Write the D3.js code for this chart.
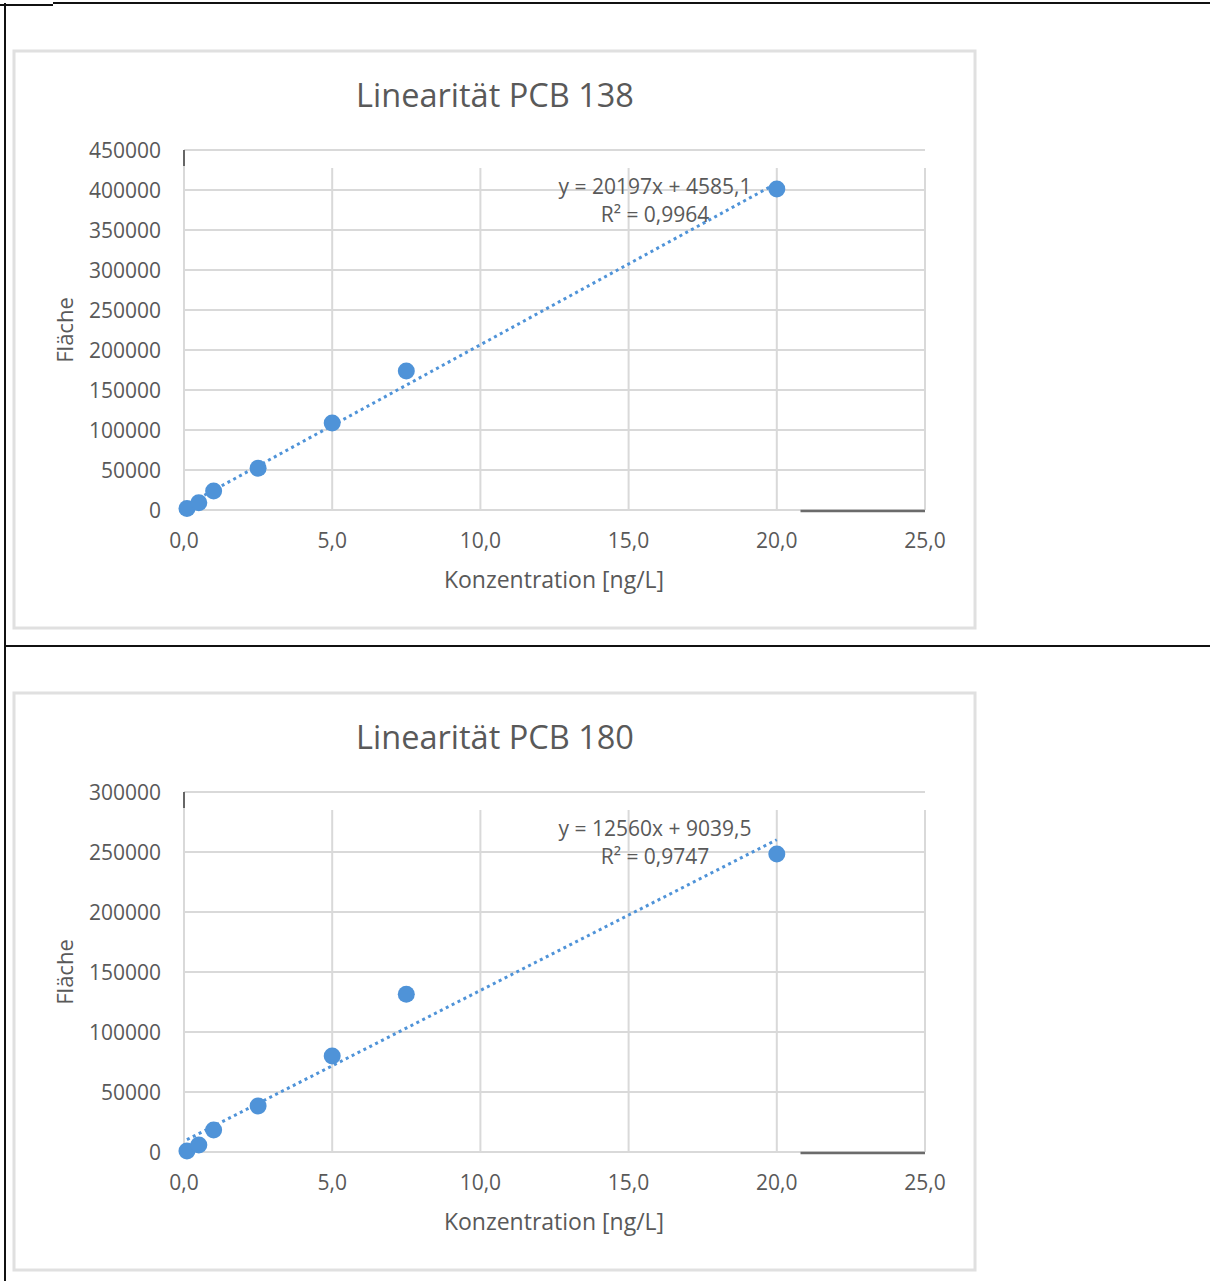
<!DOCTYPE html>
<html>
<head>
<meta charset="utf-8">
<script src="https://cdn.jsdelivr.net/npm/d3@7"></script>
<style>
  html, body { margin: 0; padding: 0; background: #fff; }
  svg { display: block; }
  text { font-family: "Open Sans", sans-serif; fill: #595959; }
</style>
</head>
<body>
<svg id="page" width="1210" height="1281"></svg>
<script>
// concentrations in ng/L
const concentrations = [0.1, 0.5, 1.0, 2.5, 5.0, 7.5, 20.0];

// peak areas
const areaPCB138 = [2000, 9100, 23750, 52100, 108750, 173750, 401250];
const areaPCB180 = [800, 5800, 18300, 38300, 80000, 131400, 248300];

// trendline coefficients as printed in the chart
const trendPCB138 = { slope: 20197, intercept: 4585.1, r2: '0,9964', label: 'y = 20197x + 4585,1' };
const trendPCB180 = { slope: 12560, intercept: 9039.5, r2: '0,9747', label: 'y = 12560x + 9039,5' };

const xTicks = [0, 5, 10, 15, 20, 25];
const yTicksPCB138 = [0, 50000, 100000, 150000, 200000, 250000, 300000, 350000, 400000, 450000];
const yTicksPCB180 = [0, 50000, 100000, 150000, 200000, 250000, 300000];

const titles = ['Linearität PCB 138', 'Linearität PCB 180'];

const svg = d3.select('#page');
const deLocale = d3.formatLocale({ decimal: ',', thousands: '', grouping: [3], currency: ['', ' €'] });
const fmtX = deLocale.format('.1f');

const pointColor = '#4f93d8';
const gridColor = '#d9d9d9';

// page borders (scanned document frame)
svg.append('path')
    .attr('d', 'M0,5H53M53,3H1210M5,3V1281M5,646H1210')
    .attr('fill', 'none')
    .attr('stroke', '#111')
    .attr('stroke-width', 2);

function drawChart(opts) {
    const {
        top, title, areas, trend, yTicks, yMax, plot, eqPos,
    } = opts;

    const g = svg.append('g').attr('class', 'chart');

    // chart frame
    g.append('rect')
        .attr('x', 14).attr('y', top)
        .attr('width', 961).attr('height', 577)
        .attr('fill', '#fff')
        .attr('stroke', '#e0e0e0')
        .attr('stroke-width', 3);

    const x = d3.scaleLinear().domain([0, 25]).range([plot.left, plot.right]);
    const y = d3.scaleLinear().domain([0, yMax]).range([plot.bottom, plot.top]);

    // horizontal grid
    g.append('g')
        .selectAll('line')
        .data(yTicks)
        .join('line')
        .attr('x1', plot.left).attr('x2', plot.right)
        .attr('y1', d => y(d)).attr('y2', d => y(d))
        .attr('stroke', gridColor)
        .attr('stroke-width', 2);

    // vertical grid (starts a bit below the top line, as in the picture)
    g.append('g')
        .selectAll('line')
        .data(xTicks)
        .join('line')
        .attr('x1', d => x(d)).attr('x2', d => x(d))
        .attr('y1', d => d === 0 ? plot.top : plot.top + 18)
        .attr('y2', plot.bottom)
        .attr('stroke', gridColor)
        .attr('stroke-width', 2);

    // dark bits of axis lines
    g.append('line')
        .attr('x1', plot.left).attr('x2', plot.left)
        .attr('y1', plot.top).attr('y2', plot.top + 16)
        .attr('stroke', '#666').attr('stroke-width', 2);
    g.append('line')
        .attr('x1', x(20.8)).attr('x2', x(25))
        .attr('y1', plot.bottom + 1).attr('y2', plot.bottom + 1)
        .attr('stroke', '#6b6b6b').attr('stroke-width', 2.5);

    // y tick labels
    g.append('g')
        .selectAll('text')
        .data(yTicks)
        .join('text')
        .attr('x', plot.left - 23)
        .attr('y', d => y(d) + 1)
        .attr('dy', '0.35em')
        .attr('text-anchor', 'end')
        .style('font-size', '21px')
        .text(d => d3.format('d')(d));

    // x tick labels
    g.append('g')
        .selectAll('text')
        .data(xTicks)
        .join('text')
        .attr('x', d => x(d))
        .attr('y', plot.bottom + 31)
        .attr('dy', '0.35em')
        .attr('text-anchor', 'middle')
        .style('font-size', '21px')
        .text(d => fmtX(d));

    // title
    g.append('text')
        .attr('x', 495)
        .attr('y', top + 45)
        .attr('dy', '0.35em')
        .attr('text-anchor', 'middle')
        .style('font-size', '32.5px')
        .text(title);

    // axis titles
    g.append('text')
        .attr('x', 554)
        .attr('y', plot.bottom + 70)
        .attr('dy', '0.35em')
        .attr('text-anchor', 'middle')
        .style('font-size', '23px')
        .text('Konzentration [ng/L]');

    g.append('text')
        .attr('transform', `translate(65,${(plot.top + plot.bottom) / 2}) rotate(-90)`)
        .attr('dy', '0.35em')
        .attr('text-anchor', 'middle')
        .style('font-size', '22px')
        .text('Fläche');

    // trendline over the data range
    const xr = d3.extent(concentrations);
    g.append('line')
        .attr('x1', x(xr[0])).attr('y1', y(trend.slope * xr[0] + trend.intercept))
        .attr('x2', x(xr[1])).attr('y2', y(trend.slope * xr[1] + trend.intercept))
        .attr('stroke', pointColor)
        .attr('stroke-width', 3)
        .attr('stroke-dasharray', '3 3.6');

    // points
    g.append('g')
        .selectAll('circle')
        .data(concentrations.map((c, i) => ({ c, a: areas[i] })))
        .join('circle')
        .attr('cx', d => x(d.c))
        .attr('cy', d => y(d.a))
        .attr('r', 8.5)
        .attr('fill', pointColor);

    // equation label
    const eq = g.append('g').style('font-size', '21px');
    eq.append('text')
        .attr('x', eqPos.x).attr('y', eqPos.y)
        .attr('dy', '0.35em')
        .attr('text-anchor', 'middle')
        .text(trend.label);
    eq.append('text')
        .attr('x', eqPos.x).attr('y', eqPos.y + 28)
        .attr('dy', '0.35em')
        .attr('text-anchor', 'middle')
        .text('R² = ' + trend.r2);
}

drawChart({
    top: 51,
    title: titles[0],
    areas: areaPCB138,
    trend: trendPCB138,
    yTicks: yTicksPCB138,
    yMax: 450000,
    plot: { left: 184, right: 925, top: 150, bottom: 510 },
    eqPos: { x: 655, y: 187 },
});

drawChart({
    top: 693,
    title: titles[1],
    areas: areaPCB180,
    trend: trendPCB180,
    yTicks: yTicksPCB180,
    yMax: 300000,
    plot: { left: 184, right: 925, top: 792, bottom: 1152 },
    eqPos: { x: 655, y: 829 },
});
</script>
</body>
</html>
